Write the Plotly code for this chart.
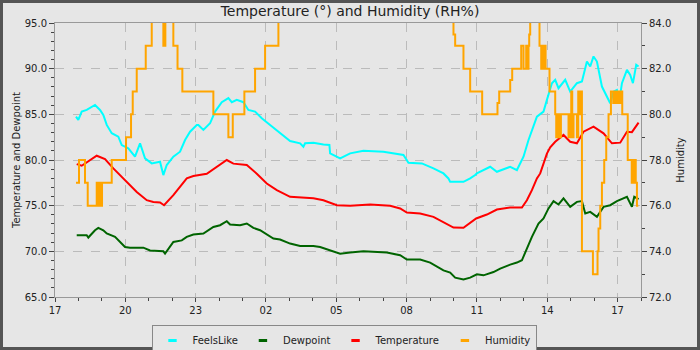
import pandas as pd
import plotly.graph_objects as go

# ---- data (hours elapsed since 17:00 on day 1) ----
base_time = "2023-07-01 17:00"

feels_hours = [0.896, 0.994, 1.140, 1.353, 1.707, 1.921, 2.061, 2.207, 2.420, 2.702, 2.847, 3.128,
               3.414, 3.628, 3.841, 4.127, 4.481, 4.622, 4.767, 5.049, 5.335, 5.548, 5.762, 6.048,
               6.116, 6.330, 6.615, 6.829, 7.115, 7.397, 7.542, 7.755, 8.037, 8.250, 8.536, 8.822,
               9.176, 9.603, 10.030, 10.457, 10.597, 10.670, 11.024, 11.451, 11.707, 11.737, 12.164,
               12.591, 13.158, 14.012, 14.866, 15.079, 15.651, 16.146, 16.573, 16.786, 16.859,
               17.426, 17.712, 17.926, 17.998, 18.566, 18.852, 19.420, 19.706, 19.987, 20.201,
               20.559, 20.841, 20.986, 21.199, 21.340, 21.481, 21.767, 21.980, 22.266, 22.480,
               22.693, 22.834, 22.975, 23.120, 23.333, 23.546, 23.687, 23.828, 23.973, 24.084,
               24.187, 24.400, 24.541, 24.656, 24.797, 24.896]
feels_values = [84.75, 84.39, 85.3, 85.48, 86.03, 85.48, 84.93, 83.84, 82.93, 82.55, 81.64, 81.28,
                80.36, 81.83, 80.18, 79.63, 79.81, 78.35, 79.45, 80.36, 80.91, 82.19, 83.1, 83.84,
                83.84, 83.29, 84.02, 85.3, 86.33, 86.77, 86.33, 86.58, 86.33, 85.48, 85.3, 84.57,
                83.84, 82.93, 82.08, 81.83, 81.45, 81.83, 81.9, 81.7, 81.64, 80.73, 80.18,
                80.73, 81.02, 80.91, 80.55, 79.7, 79.63, 79.08, 78.53, 77.98, 77.61,
                77.61, 77.98, 78.35, 78.53, 79.26, 78.71, 79.26, 78.9, 80.36, 82.19,
                84.75, 85.3, 86.58, 88.41, 88.78, 87.86, 88.78, 87.49, 88.41, 88.59,
                90.78, 90.24, 91.34, 90.78, 88.04, 86.94, 86.22, 87.49, 87.67, 86.58,
                88.41, 89.87, 89.32, 88.41, 90.42, 90.24]

dew_hours = [0.926, 1.353, 1.421, 1.707, 1.848, 2.061, 2.207, 2.561, 2.988, 3.201, 3.769, 4.055,
             4.622, 4.695, 5.049, 5.408, 5.621, 5.903, 6.330, 6.756, 7.042, 7.328, 7.469, 7.896,
             8.182, 8.463, 8.749, 9.035, 9.317, 9.603, 10.030, 10.457, 11.024, 11.310, 11.737,
             12.164, 12.591, 13.158, 14.157, 14.725, 15.011, 15.578, 16.005, 16.573, 16.859,
             17.072, 17.426, 17.712, 17.998, 18.280, 18.707, 18.993, 19.420, 19.706, 19.919,
             20.132, 20.346, 20.627, 20.841, 21.054, 21.268, 21.481, 21.694, 21.980, 22.266,
             22.480, 22.621, 22.834, 23.120, 23.402, 23.687, 23.973, 24.400, 24.613, 24.712, 24.896]
dew_values = [71.76, 71.76, 71.51, 72.31, 72.57, 72.31, 71.95, 71.58, 70.48, 70.4, 70.4, 70.1,
              70.0, 69.75, 71.03, 71.2, 71.58, 71.84, 71.95, 72.67, 72.86, 73.3, 72.93, 72.86,
              73.05, 72.57, 72.31, 71.84, 71.4, 71.29, 70.85, 70.59, 70.59, 70.48, 70.1,
              69.75, 69.88, 70.0, 69.86, 69.57, 69.1, 69.1, 68.77, 67.92, 67.67,
              67.12, 66.93, 67.12, 67.48, 67.37, 67.73, 68.1, 68.55, 68.77, 69.02,
              70.3, 71.58, 73.05, 73.6, 74.7, 75.5, 75.13, 75.8, 74.87, 75.42,
              75.5, 74.14, 74.32, 73.77, 74.87, 75.05, 75.5, 75.97, 74.87, 75.97, 75.72]

temp_hours = [0.926, 1.140, 1.780, 2.134, 2.488, 3.060, 3.487, 3.914, 4.195, 4.481, 4.652, 5.049,
              5.408, 5.621, 5.903, 6.189, 6.475, 7.328, 7.610, 8.182, 8.609, 9.035, 9.462, 10.030,
              11.024, 11.451, 12.023, 12.591, 13.018, 13.444, 14.298, 14.725, 15.011, 15.578,
              16.146, 16.573, 17.000, 17.426, 17.968, 18.425, 18.852, 19.420, 19.919, 20.132,
              20.346, 20.559, 20.700, 20.986, 21.127, 21.340, 21.694, 21.980, 22.266, 22.548,
              22.975, 23.402, 23.759, 24.114, 24.400, 24.613, 24.896]
temp_values = [79.55, 79.37, 80.47, 80.1, 79.08, 77.6, 76.5, 75.6, 75.4, 75.35, 75.05, 76.15,
               77.25, 78.0, 78.24, 78.35, 78.5, 80.0, 79.6, 79.45, 78.5, 77.43, 76.7, 75.97,
               75.8, 75.6, 75.05, 75.0, 75.05, 75.13, 74.98, 74.7, 74.25, 74.14,
               73.77, 73.22, 72.6, 72.57, 73.6, 74.03, 74.58, 74.8, 74.8, 75.6,
               76.7, 77.98, 78.53, 80.7, 81.4, 82.0, 82.74, 82.0, 81.83, 83.1,
               83.65, 82.92, 81.83, 81.9, 83.1, 83.05, 84.09]

hum_hours = [0.896, 1.024, 1.280, 1.396, 1.780, 1.822, 1.848, 1.891, 1.933, 1.963, 2.006, 2.420,
             3.030, 3.244, 3.316, 3.487, 3.871, 4.127, 4.622, 4.708, 5.049, 5.228, 5.433, 6.756,
             7.397, 7.584, 8.079, 8.536, 8.963, 9.531,
             17.000, 17.072, 17.426, 17.712, 18.224, 18.877, 18.950, 19.420, 19.505, 19.889,
             19.987, 20.102, 20.158, 20.201, 20.230, 20.273, 20.670, 20.743, 20.785, 20.828,
             20.870, 20.930, 21.097, 21.340, 21.383, 21.426, 21.468, 21.511, 21.554, 21.583,
             21.908, 21.938, 21.980, 22.023, 22.066, 22.121, 22.266, 22.322, 22.365, 22.437,
             22.480, 22.949, 23.146, 23.188, 23.261, 23.333, 23.431, 23.517, 23.615, 23.717,
             23.815, 23.858, 23.943, 23.986, 24.072, 24.114, 24.200, 24.434, 24.605, 24.648,
             24.690, 24.733, 24.776, 24.827, 24.883]
hum_values = [77, 78, 77, 76, 77, 76, 77, 76, 77, 76, 77, 78,
              79, 80, 81, 82, 83, 85, 83, 85, 83, 82, 81, 80,
              79, 80, 81, 82, 83, 85,
              83.5, 83, 82, 81, 80, 80.5, 81, 81.5, 82, 83,
              82, 83, 82, 83, 83.5, 85, 83, 82, 83, 82,
              83, 82, 81, 80, 79, 80, 79, 80, 79, 80,
              79, 80, 79, 81, 79, 80, 79, 81, 80, 81,
              74, 73, 74, 75, 76, 77, 78, 79, 80, 81,
              80.5, 81, 80.5, 81, 80.5, 81, 80, 78, 77, 78,
              77, 78, 77, 76, 76]

x_start, x_end = "2023-07-01 17:00", "2023-07-02 18:00"


def to_time(hours):
    return pd.Timestamp(base_time) + pd.to_timedelta(hours, unit="h")


FONT = "DejaVu Sans"
BG = "#e6e6e6"
W, H = 700, 350
ML, MR, MT, MB = 55, 59, 23, 53

series = [
    ("FeelsLike", feels_hours, feels_values, "#00ffff", "y", "linear"),
    ("Dewpoint", dew_hours, dew_values, "#006400", "y", "linear"),
    ("Temperature", temp_hours, temp_values, "#ff0000", "y", "linear"),
    ("Humidity", hum_hours, hum_values, "#ffa500", "y2", "hv"),
]

fig = go.Figure()
for name, hrs, vals, col, ax, shape in series:
    fig.add_trace(go.Scatter(x=to_time(hrs), y=vals, mode="lines", yaxis=ax,
                             line=dict(color=col, width=2, shape=shape),
                             showlegend=False, hoverinfo="skip"))
for name, hrs, vals, col, ax, shape in series:
    fig.add_trace(go.Scatter(x=[None], y=[None], mode="markers", name=name, yaxis=ax,
                             marker=dict(symbol="line-ew", size=6,
                                         line=dict(color=col, width=3))))

pw = W - ML - MR
ph = H - MT - MB
fig.add_shape(type="rect", xref="paper", yref="paper",
              x0=(1.5 - ML) / pw, x1=(W - 1.5 - ML) / pw,
              y0=(1.5 - MB) / ph, y1=(H - MB - 1.5) / ph,
              line=dict(color="#555555", width=3), fillcolor="rgba(0,0,0,0)", layer="above")

axis_common = dict(showline=True, linecolor="#999999", linewidth=1,
                   ticks="outside", ticklen=5, tickcolor="#444444",
                   tickfont=dict(family=FONT, size=10, color="#222222"),
                   zeroline=False)

fig.update_layout(
    width=W, height=H,
    margin=dict(l=ML, r=MR, t=MT, b=MB, pad=0, autoexpand=False),
    paper_bgcolor=BG, plot_bgcolor=BG,
    font=dict(family=FONT, size=10, color="#222222"),
    title=dict(text="Temperature (°) and Humidity (RH%)", x=(W / 2 - ML) / pw,
               xref="paper", xanchor="center", y=1 - 11.5 / H, yanchor="middle",
               font=dict(family=FONT, size=14, color="#222222")),
    xaxis=dict(type="date", range=[x_start, x_end], tickformat="%H",
               tick0="2023-07-01 17:00", dtick=3 * 3600 * 1000,
               showgrid=True, gridcolor="#bbbbbb", griddash="dash", gridwidth=1,
               mirror=True, ticklen=4,
               minor=dict(dtick=3600 * 1000, ticks="outside", ticklen=3, tickcolor="#444444", showgrid=False),
               **{k: v for k, v in axis_common.items() if k != "ticklen"}),
    yaxis=dict(range=[65, 95], dtick=5, tickformat=".1f",
               title=dict(text="Temperature and Dewpoint", font=dict(family=FONT, size=10, color="#222222"), standoff=2),
               showgrid=True, gridcolor="#bbbbbb", griddash="dash", gridwidth=1,
               minor=dict(dtick=1, ticks="outside", ticklen=3, tickcolor="#444444", showgrid=False),
               **axis_common),
    yaxis2=dict(range=[72, 84], dtick=2, tickformat=".1f", overlaying="y", side="right",
                title=dict(text="Humidity", font=dict(family=FONT, size=10, color="#222222"), standoff=6),
                showgrid=False,
                minor=dict(dtick=1, ticks="outside", ticklen=3, tickcolor="#444444", showgrid=False),
                **axis_common),
    legend=dict(orientation="h", x=(344 - ML) / pw, xanchor="center", y=-(325 - (H - MB)) / ph,
                yanchor="top", bgcolor=BG, bordercolor="#888888", borderwidth=1,
                font=dict(family=FONT, size=10, color="#222222"), itemwidth=30),
)

fig.write_html("out.html")
